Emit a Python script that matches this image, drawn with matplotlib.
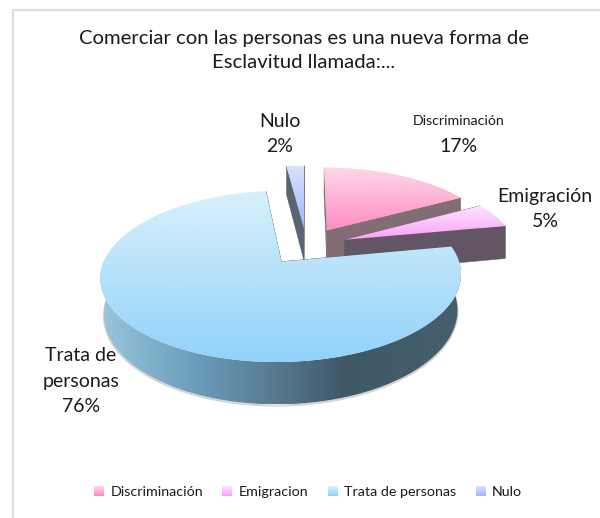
import numpy as np
import matplotlib
matplotlib.use("Agg")
import matplotlib.pyplot as plt
from matplotlib.patches import Polygon, Rectangle
from matplotlib.colors import LinearSegmentedColormap
from matplotlib.legend_handler import HandlerBase

# ---- data ----
categories = ["Discriminación", "Emigracion", "Trata de personas", "Nulo"]
values = [17, 5, 76, 2]
title_lines = ["Comerciar con las personas es una nueva forma de", "Esclavitud llamada:..."]
label_names = [["Discriminación"], ["Emigración"], ["Trata de", "personas"], ["Nulo"]]

# ---- style ----
top_cols = [("#fcd9e9", "#fd8cc0"), ("#fce3fd", "#faa0fb"), ("#daf0fb", "#91d2fb"), ("#dae3fb", "#a0b6fb")]
face_cols = ["#826d74", "#645564", "#3e5664", "#5a6473"]
rim_stops = [(0, "#98c6de"), (0.28, "#6a9ab8"), (0.5, "#55778d"), (0.68, "#3f5866"), (1, "#455f6e")]
FONT = "Lato"
TXT = "#1a1a1a"
CX, CY, RX, RY, K, EXPL, DEPTH = 306.5, 246, 172, 78, 0.165, 0.24, 34
label_xy = [(459, 134), (545, 209), (81, 381), (280, 134)]
label_size = [(10.2, 14.0), (14.0, 14.0), (14.0, 14.0), (14.0, 14.0)]

fig = plt.figure(figsize=(6, 5.18), dpi=100, facecolor="white")
ax = fig.add_axes([0, 0, 1, 1])
ax.set_xlim(0, 600)
ax.set_ylim(518, 0)
ax.axis("off")
ax.autoscale(False)


def project(u, v):
    s = 1 / (1 + K * v)
    return CX + RX * u * s, CY - RY * v * s, s


def grad_fill(pts, cols, horizontal=False, z=2):
    pts = np.asarray(pts)
    cm = LinearSegmentedColormap.from_list("g", cols)
    x0, y0 = pts.min(0)
    x1, y1 = pts.max(0)
    g = np.linspace(0, 1, 256)
    arr = g[None, :] if horizontal else g[:, None]
    im = ax.imshow(arr, cmap=cm, vmin=0, vmax=1, extent=(x0, x1, y1, y0), origin="upper",
                   aspect="auto", zorder=z, interpolation="bilinear")
    clip = Polygon(pts, closed=True, transform=ax.transData, fc="none", ec="none")
    ax.add_patch(clip)
    im.set_clip_path(clip)


def down(pts, ss, cx):
    # the lower rim sits slightly further away, so it is a little narrower
    return np.column_stack([cx + (pts[:, 0] - cx) * 0.98, pts[:, 1] + DEPTH * ss])


fractions = np.array(values) / sum(values)
edges = np.concatenate([[0], np.cumsum(fractions)]) * 2 * np.pi
order = [3, 0, 1, 2]  # back to front
z = 2
for i in order:
    a0, a1 = edges[i], edges[i + 1]
    mid = (a0 + a1) / 2
    ox, oy = EXPL * np.sin(mid), EXPL * np.cos(mid)
    th = np.linspace(a0, a1, 240)
    ax_, ay_, as_ = project(ox, oy)
    apex = np.array([[ax_, ay_]])
    x, y, s = project(ox + np.sin(th), oy + np.cos(th))
    arc = np.column_stack([x, y])
    # cut faces
    for end, es in ((arc[0], s[0]), (arc[-1], s[-1])):
        quad = np.array([apex[0], end, [end[0], end[1] + DEPTH * es], [apex[0, 0], apex[0, 1] + DEPTH * as_]])
        ax.add_patch(Polygon(quad, closed=True, fc=face_cols[i], ec=face_cols[i], lw=0.3, zorder=z))
    # outer rim (front-facing part only)
    m = (th > np.pi / 2 - 0.02) & (th < 3 * np.pi / 2 + 0.02)
    if m.any():
        rim_top = arc[m]
        rim_bot = down(rim_top, s[m], ax_)
        shadow = np.column_stack([rim_bot[:, 0], rim_bot[:, 1] + 1.2])
        ax.plot(shadow[:, 0], shadow[:, 1], color="#c4bfbb", lw=1.4, alpha=0.7, zorder=z, solid_capstyle="round")
        grad_fill(np.vstack([rim_top, rim_bot[::-1]]), rim_stops, horizontal=True, z=z + 0.1)
    # top face
    grad_fill(np.vstack([apex, arc]), top_cols[i], z=z + 0.2)
    z += 1

# chart frame (left and top only are visible in the reference)
ax.plot([12.5, 12.5, 600], [518, 9.5, 9.5], color="#dcdcdc", lw=1.6, zorder=1, solid_joinstyle="miter")

# title
for line, yy in zip(title_lines, (38.5, 63)):
    ax.text(304, yy, line, ha="center", va="center", family=FONT, fontsize=14.6, color=TXT)

# data labels
LH = 25.5
for names, v, (lx, ly), (s1, s2) in zip(label_names, values, label_xy, label_size):
    lines = names + [f"{v}%"]
    sizes = [s1] * len(names) + [s2]
    for j, (t, fs) in enumerate(zip(lines, sizes)):
        yy = ly + LH * (j - (len(lines) - 1) / 2) if len(lines) > 2 else ly + LH * (j - 0.5)
        ax.text(lx, yy, t, ha="center", va="center", family=FONT, fontsize=fs, color=TXT, zorder=20)


# legend with gradient keys
class GradKey(HandlerBase):
    def create_artists(self, legend, orig, xd, yd, w, h, fs, trans):
        cols = orig.cols
        cm = LinearSegmentedColormap.from_list("k", cols)
        n = 10
        return [Rectangle((-xd, -yd + h * (n - 1 - k) / n), w, h / n + 0.3, fc=cm(k / (n - 1)),
                          ec="none", transform=trans) for k in range(n)]


handles = []
for c, cat in zip(top_cols, categories):
    p = Rectangle((0, 0), 1, 1, label=cat)
    p.cols = c
    handles.append(p)
leg = ax.legend(handles=handles, handler_map={Rectangle: GradKey()}, ncol=4, loc="center",
                bbox_to_anchor=(308 / 600, 1 - 492 / 518), frameon=False,
                prop={"family": FONT, "size": 10.3}, labelcolor=TXT,
                handlelength=0.7, handleheight=0.7, handletextpad=0.45, columnspacing=1.35, borderpad=0)
leg.set_zorder(20)

fig.savefig("out.png", dpi=100, facecolor="white")
